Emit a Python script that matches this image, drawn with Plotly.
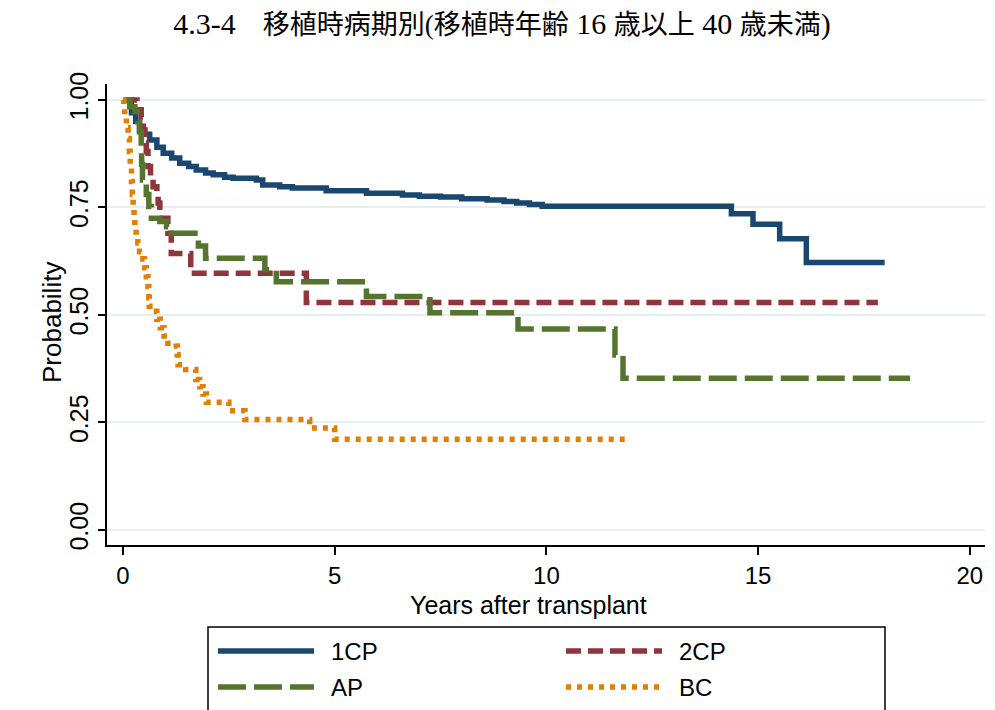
import plotly.graph_objects as go

# ===============================
# DATA
# ===============================
TITLE_PARTS = [("4.3-4", True), ("\u3000移植時病期別(移植時年齢", False), (" 16 ", True),
               ("歳以上", False), (" 40 ", True), ("歳未満", False), (")", True)]

t_1cp = [0, 0.2, 0.3, 0.39, 0.5, 0.63, 0.8, 0.95, 1.15, 1.34, 1.55, 1.73, 1.95,
         2.13, 2.4, 2.6, 3.15, 3.3, 3.7, 4.0, 4.8, 5.75, 6.6, 7.0, 7.5, 8.0,
         8.6, 9.0, 9.3, 9.6, 9.9, 14.37, 14.88, 15.51, 16.14, 17.99]
s_1cp = [1.0, 0.97, 0.95, 0.93, 0.92, 0.907, 0.89, 0.876, 0.865, 0.853, 0.845,
         0.837, 0.83, 0.826, 0.82, 0.818, 0.814, 0.802, 0.798, 0.795, 0.789,
         0.783, 0.779, 0.776, 0.774, 0.770, 0.767, 0.764, 0.760, 0.757, 0.753,
         0.735, 0.711, 0.677, 0.622, 0.622]

t_2cp = [0, 0.33, 0.43, 0.48, 0.52, 0.55, 0.59, 0.65, 0.71, 0.8, 0.83, 0.87,
         1.06, 1.14, 1.6, 4.33, 17.83]
s_2cp = [1.0, 0.977, 0.96, 0.93, 0.9, 0.88, 0.845, 0.82, 0.798, 0.775, 0.76,
         0.725, 0.69, 0.643, 0.597, 0.529, 0.529]

t_ap = [0, 0.16, 0.28, 0.35, 0.39, 0.43, 0.44, 0.46, 0.55, 0.61, 0.67, 0.87,
        1.03, 1.14, 1.78, 1.95, 3.35, 3.62, 5.75, 7.25, 9.33, 11.62, 11.81, 18.59]
s_ap = [1.0, 0.984, 0.973, 0.95, 0.926, 0.89, 0.85, 0.814, 0.78, 0.752, 0.725,
        0.717, 0.705, 0.69, 0.66, 0.632, 0.605, 0.577, 0.543, 0.505, 0.467,
        0.407, 0.353, 0.353]

t_bc = [0, 0.02, 0.04, 0.08, 0.12, 0.15, 0.17, 0.2, 0.22, 0.24, 0.26, 0.28,
        0.31, 0.35, 0.39, 0.47, 0.51, 0.55, 0.59, 0.61, 0.62, 0.79, 0.8, 0.88,
        0.97, 1.06, 1.26, 1.28, 1.3, 1.48, 1.72, 1.81, 1.89, 1.97, 2.5, 2.88,
        4.41, 5.0, 11.97]
s_bc = [1.0, 0.985, 0.96, 0.935, 0.91, 0.88, 0.845, 0.81, 0.78, 0.755, 0.73,
        0.705, 0.685, 0.667, 0.647, 0.63, 0.61, 0.589, 0.566, 0.54, 0.52, 0.508,
        0.49, 0.47, 0.451, 0.434, 0.428, 0.408, 0.384, 0.373, 0.35, 0.333, 0.316,
        0.297, 0.277, 0.257, 0.237, 0.211, 0.211]

y_ticks = [0, 0.25, 0.5, 0.75, 1.0]
y_ticktext = ["0.00", "0.25", "0.50", "0.75", "1.00"]
x_ticks = [0, 5, 10, 15, 20]

# ===============================
# STYLE
# ===============================
# the page body adds an 8px margin, so the figure is 8px smaller and every
# reference pixel position below is taken minus 8
OFF = 8
W, H = 995 - OFF, 710 - OFF
L, R, T, B = 107 - OFF, 10, 84 - OFF, 165
SANS = "Liberation Sans, Arial, sans-serif"

SERIES = [
    ("1CP", t_1cp, s_1cp, "#1a476f", "solid"),
    ("2CP", t_2cp, s_2cp, "#90353b", "15px,7px"),
    ("AP", t_ap, s_ap, "#55752f", "28px,8px"),
    ("BC", t_bc, s_bc, "#e37e00", "5px,6px"),
]


def px_x(p):
    return (p - OFF - L) / (W - L - R)


def px_y(p):
    return (H - B - (p - OFF)) / (H - T - B)


title_html = "".join(
    f'<span style="font-size:30px">{txt}</span>' if latin else txt
    for txt, latin in TITLE_PARTS)

fig = go.Figure()
for name, t, s, col, dash in SERIES:
    fig.add_trace(go.Scatter(x=t, y=s, mode="lines", name=name,
                             line=dict(color=col, width=5.5, dash=dash, shape="hv"),
                             showlegend=False))

# legend drawn by hand (Stata style: long keys, two columns, boxed)
legend_slots = [(218, 651), (566, 651), (218, 687), (566, 687)]
shapes = [dict(type="rect", xref="paper", yref="paper",
               x0=px_x(208), x1=px_x(885), y0=px_y(627), y1=px_y(715),
               line=dict(color="black", width=1.5), fillcolor="white", layer="below")]
annotations = []
for (name, _, _, col, dash), (lx, ly) in zip(SERIES, legend_slots):
    shapes.append(dict(type="line", xref="paper", yref="paper",
                       x0=px_x(lx), x1=px_x(lx + 96), y0=px_y(ly), y1=px_y(ly),
                       line=dict(color=col, width=5.5, dash=dash)))
    annotations.append(dict(text=name, xref="paper", yref="paper",
                            x=px_x(lx + 111), y=px_y(ly), xanchor="left",
                            yanchor="middle", showarrow=False,
                            font=dict(family=SANS, size=24, color="black")))

# axis titles placed where the reference has them
annotations.append(dict(text="Probability", xref="paper", yref="paper",
                        x=px_x(52), y=px_y(322), textangle=-90,
                        xanchor="center", yanchor="middle", showarrow=False,
                        font=dict(family=SANS, size=26, color="black")))
annotations.append(dict(text="Years after transplant", xref="paper", yref="paper",
                        x=px_x(528), y=px_y(605), xanchor="center",
                        yanchor="middle", showarrow=False,
                        font=dict(family=SANS, size=25, color="black")))

fig.update_layout(
    width=W, height=H, autosize=False,
    margin=dict(l=L, r=R, t=T, b=B, autoexpand=False),
    paper_bgcolor="white", plot_bgcolor="white",
    title=dict(text=title_html, x=(502 - OFF) / W, xanchor="center",
               y=1 - 17 / H, yanchor="middle", automargin=False,
               font=dict(family="Liberation Serif, Noto Sans CJK JP", size=27,
                         color="black")),
    shapes=shapes, annotations=annotations,
)
fig.update_xaxes(range=[-0.378, 20.36], tickvals=x_ticks, ticks="outside",
                 ticklen=8, tickwidth=1.5, tickcolor="black", automargin=False,
                 showline=True, linecolor="black", linewidth=1.5,
                 showgrid=False, zeroline=False,
                 tickfont=dict(family=SANS, size=24, color="black"))
fig.update_yaxes(range=[-0.035, 1.037], tickvals=y_ticks, ticktext=y_ticktext,
                 tickangle=-90, ticks="outside", ticklen=7, tickwidth=1.5,
                 tickcolor="black", showline=True, linecolor="black",
                 linewidth=1.5, showgrid=True, gridcolor="#e6eef1", gridwidth=2,
                 zeroline=False, automargin=False,
                 tickfont=dict(family=SANS, size=25, color="black"))

fig.write_html("out.html")
